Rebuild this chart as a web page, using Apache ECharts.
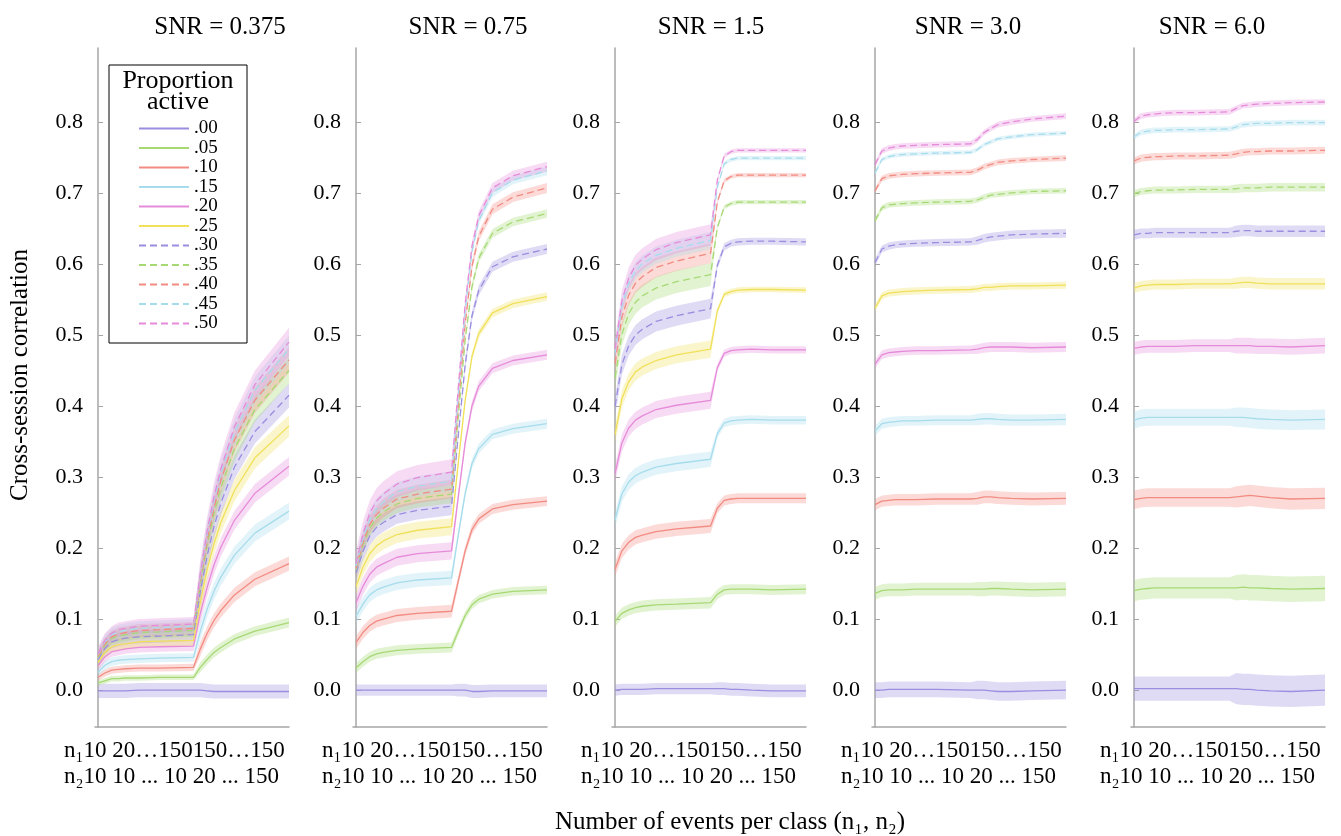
<!DOCTYPE html>
<html><head><meta charset="utf-8">
<script src="https://cdn.jsdelivr.net/npm/echarts@6/dist/echarts.min.js"></script>
<style>html,body{margin:0;padding:0;background:#fff}#c{width:1341px;height:836px}</style>
</head><body><div id="c"></div>
<script>
// x positions (index along the n1/n2 sequence: 0..14 -> n1 10..150 with n2=10, 15..28 -> n2 20..150 with n1=150)
const xIndex = [0,1,2,3,4,6,9,14,15,16,17,18,20,23,28];
const proportions = ['.00','.05','.10','.15','.20','.25','.30','.35','.40','.45','.50'];
const snrTitles = ['SNR = 0.375','SNR = 0.75','SNR = 1.5','SNR = 3.0','SNR = 6.0'];
const yTickValues = [0,0.1,0.2,0.3,0.4,0.5,0.6,0.7,0.8];
const xRowN1 = 'n\u208110 20\u2026150150\u2026150';
const xRowN2 = 'n\u208210 10 ... 10 20 ... 150';

const snr0375 = [
 [-0.001,-0.001,-0.001,-0.001,-0.001,0.000,0.000,0.000,0.000,-0.001,-0.002,-0.002,-0.002,-0.002,-0.002],
 [0.010,0.013,0.016,0.016,0.017,0.017,0.018,0.018,0.032,0.043,0.053,0.060,0.072,0.083,0.095],
 [0.018,0.024,0.028,0.029,0.030,0.031,0.031,0.032,0.058,0.080,0.098,0.112,0.134,0.156,0.178],
 [0.025,0.035,0.040,0.042,0.043,0.044,0.045,0.046,0.083,0.114,0.139,0.159,0.190,0.221,0.252],
 [0.034,0.047,0.054,0.056,0.058,0.060,0.061,0.062,0.108,0.145,0.176,0.201,0.239,0.277,0.315],
 [0.039,0.053,0.061,0.064,0.065,0.068,0.069,0.070,0.124,0.170,0.206,0.236,0.281,0.327,0.372],
 [0.043,0.059,0.068,0.071,0.073,0.075,0.076,0.078,0.139,0.189,0.230,0.263,0.314,0.364,0.415],
 [0.046,0.063,0.073,0.076,0.078,0.081,0.082,0.084,0.150,0.205,0.249,0.285,0.340,0.395,0.450],
 [0.048,0.065,0.075,0.079,0.081,0.084,0.085,0.087,0.155,0.212,0.257,0.295,0.352,0.408,0.465],
 [0.050,0.068,0.078,0.082,0.084,0.087,0.088,0.090,0.160,0.219,0.266,0.305,0.363,0.422,0.480],
 [0.051,0.070,0.080,0.085,0.087,0.090,0.091,0.093,0.164,0.224,0.272,0.311,0.371,0.430,0.490]
];
const snr075 = [
 [0.000,0.000,0.000,0.000,0.000,0.000,0.000,0.000,0.000,0.000,-0.002,-0.002,-0.001,-0.001,-0.001],
 [0.031,0.040,0.047,0.051,0.053,0.056,0.058,0.060,0.083,0.105,0.120,0.128,0.135,0.139,0.141],
 [0.067,0.081,0.091,0.097,0.100,0.105,0.108,0.111,0.154,0.196,0.226,0.241,0.255,0.261,0.266],
 [0.104,0.121,0.134,0.141,0.145,0.151,0.155,0.158,0.219,0.277,0.319,0.340,0.360,0.368,0.375],
 [0.123,0.146,0.163,0.173,0.178,0.187,0.192,0.196,0.273,0.348,0.400,0.428,0.453,0.464,0.472],
 [0.146,0.173,0.192,0.203,0.210,0.219,0.225,0.230,0.321,0.408,0.470,0.502,0.531,0.544,0.554],
 [0.165,0.195,0.217,0.229,0.236,0.247,0.253,0.259,0.360,0.458,0.527,0.563,0.596,0.610,0.621],
 [0.170,0.204,0.228,0.242,0.251,0.262,0.270,0.276,0.387,0.493,0.568,0.608,0.643,0.659,0.671],
 [0.172,0.208,0.233,0.247,0.256,0.269,0.276,0.283,0.402,0.516,0.597,0.639,0.677,0.694,0.707],
 [0.175,0.213,0.240,0.256,0.265,0.279,0.287,0.294,0.416,0.534,0.617,0.661,0.700,0.718,0.731],
 [0.178,0.219,0.249,0.266,0.276,0.290,0.299,0.307,0.427,0.544,0.625,0.668,0.707,0.724,0.737]
];
const snr15 = [
 [0.000,0.001,0.001,0.001,0.001,0.002,0.002,0.002,0.002,0.002,0.001,0.001,0.000,-0.001,-0.001],
 [0.097,0.108,0.113,0.116,0.118,0.120,0.121,0.123,0.135,0.141,0.142,0.142,0.142,0.141,0.142],
 [0.170,0.196,0.208,0.215,0.218,0.223,0.227,0.231,0.256,0.267,0.269,0.270,0.270,0.270,0.270],
 [0.240,0.276,0.293,0.302,0.307,0.314,0.319,0.325,0.361,0.376,0.379,0.380,0.381,0.380,0.380],
 [0.305,0.348,0.369,0.380,0.386,0.395,0.401,0.408,0.454,0.474,0.478,0.479,0.480,0.479,0.479],
 [0.360,0.410,0.434,0.448,0.455,0.464,0.472,0.480,0.534,0.557,0.561,0.563,0.564,0.564,0.563],
 [0.400,0.458,0.485,0.500,0.508,0.519,0.527,0.537,0.598,0.624,0.629,0.631,0.632,0.632,0.631],
 [0.440,0.501,0.530,0.546,0.555,0.566,0.575,0.585,0.651,0.680,0.685,0.687,0.687,0.687,0.687],
 [0.460,0.525,0.556,0.573,0.582,0.595,0.604,0.615,0.687,0.717,0.723,0.725,0.725,0.725,0.725],
 [0.475,0.541,0.573,0.590,0.600,0.612,0.622,0.633,0.708,0.741,0.747,0.749,0.749,0.749,0.749],
 [0.480,0.548,0.580,0.598,0.607,0.620,0.630,0.641,0.718,0.752,0.758,0.760,0.760,0.760,0.760]
];
const snr30 = [
 [0.000,0.000,0.001,0.001,0.001,0.001,0.001,0.000,0.000,0.000,-0.001,-0.002,-0.002,-0.001,0.000],
 [0.136,0.140,0.141,0.141,0.141,0.142,0.142,0.142,0.142,0.142,0.143,0.143,0.142,0.141,0.142],
 [0.261,0.266,0.267,0.268,0.268,0.268,0.269,0.269,0.270,0.272,0.272,0.271,0.270,0.269,0.270],
 [0.365,0.375,0.377,0.378,0.379,0.379,0.380,0.380,0.381,0.382,0.382,0.381,0.380,0.380,0.381],
 [0.459,0.472,0.475,0.476,0.477,0.478,0.478,0.479,0.480,0.482,0.483,0.483,0.483,0.482,0.483],
 [0.538,0.555,0.559,0.560,0.561,0.562,0.563,0.564,0.565,0.567,0.567,0.568,0.569,0.569,0.570],
 [0.602,0.621,0.625,0.627,0.628,0.629,0.630,0.631,0.633,0.636,0.638,0.639,0.641,0.642,0.643],
 [0.661,0.679,0.683,0.684,0.685,0.686,0.687,0.688,0.690,0.694,0.697,0.698,0.700,0.702,0.703],
 [0.703,0.720,0.724,0.725,0.726,0.727,0.728,0.729,0.732,0.737,0.740,0.743,0.745,0.747,0.749],
 [0.728,0.747,0.751,0.753,0.754,0.755,0.756,0.757,0.761,0.768,0.772,0.776,0.779,0.782,0.784],
 [0.740,0.759,0.763,0.765,0.766,0.767,0.768,0.769,0.775,0.785,0.791,0.796,0.800,0.804,0.808]
];
const snr60 = [
 [0.002,0.002,0.002,0.002,0.002,0.002,0.002,0.002,0.002,0.001,0.001,0.000,-0.001,-0.002,0.000],
 [0.140,0.142,0.143,0.144,0.144,0.144,0.144,0.144,0.144,0.145,0.144,0.144,0.143,0.142,0.143],
 [0.268,0.270,0.271,0.271,0.271,0.271,0.271,0.271,0.272,0.273,0.274,0.273,0.271,0.269,0.270],
 [0.380,0.383,0.384,0.384,0.384,0.384,0.384,0.384,0.384,0.384,0.383,0.382,0.381,0.380,0.381],
 [0.481,0.483,0.484,0.484,0.484,0.484,0.485,0.485,0.485,0.485,0.485,0.484,0.484,0.483,0.485],
 [0.566,0.569,0.570,0.571,0.571,0.571,0.572,0.572,0.573,0.574,0.574,0.573,0.572,0.572,0.572],
 [0.641,0.643,0.643,0.644,0.644,0.644,0.644,0.644,0.646,0.647,0.647,0.646,0.646,0.646,0.646],
 [0.699,0.702,0.703,0.704,0.704,0.704,0.705,0.705,0.706,0.707,0.707,0.707,0.708,0.708,0.708],
 [0.745,0.749,0.750,0.751,0.751,0.752,0.752,0.753,0.755,0.757,0.758,0.758,0.759,0.759,0.760],
 [0.779,0.785,0.787,0.788,0.788,0.789,0.789,0.790,0.793,0.796,0.797,0.798,0.798,0.799,0.799],
 [0.801,0.808,0.810,0.811,0.812,0.813,0.813,0.814,0.819,0.823,0.824,0.825,0.826,0.827,0.828]
];
// half-width of the shaded band, first segment (n2 = 10) and second segment (n1 = 150)
const bandEarly0375 = [0.010,0.004,0.005,0.006,0.007,0.008,0.009,0.009,0.009,0.010,0.010];
const bandLate0375  = [0.010,0.007,0.010,0.012,0.013,0.015,0.017,0.018,0.018,0.019,0.020];
const bandEarly075  = [0.008,0.007,0.009,0.010,0.012,0.012,0.013,0.013,0.013,0.014,0.018];
const bandLate075   = [0.009,0.006,0.007,0.007,0.007,0.006,0.007,0.006,0.007,0.006,0.007];
const bandEarly15   = [0.008,0.008,0.010,0.011,0.012,0.012,0.014,0.016,0.014,0.012,0.015];
const bandLate15    = [0.009,0.007,0.007,0.006,0.005,0.004,0.005,0.003,0.003,0.003,0.003];
const bandEarly30   = [0.011,0.009,0.008,0.007,0.006,0.005,0.005,0.004,0.004,0.003,0.004];
const bandLate30    = [0.013,0.010,0.009,0.008,0.007,0.005,0.006,0.004,0.004,0.003,0.004];
const bandEarly60   = [0.017,0.015,0.013,0.012,0.009,0.007,0.007,0.005,0.005,0.004,0.004];
const bandLate60    = [0.022,0.018,0.015,0.014,0.011,0.008,0.008,0.006,0.005,0.004,0.004];

const panelValues = [snr0375, snr075, snr15, snr30, snr60];
const bandEarly = [bandEarly0375, bandEarly075, bandEarly15, bandEarly30, bandEarly60];
const bandLate = [bandLate0375, bandLate075, bandLate15, bandLate30, bandLate60];

const lineColors = ['#9b8ee0','#a6d974','#f28b82','#a6dcec','#e68bd9','#f0e05a',
                    '#9b8ee0','#a6d974','#f28b82','#a6dcec','#e68bd9'];
const panelLeft = [95, 353, 612, 872, 1131];
const titleCenter = [220, 468, 711, 968, 1212];
const FONT = '"Liberation Serif", "DejaVu Serif", serif';
const AXIS_GRAY = '#a6a6a6';

const chart = echarts.init(document.getElementById('c'), null, {renderer: 'canvas'});
const grids = [], xAxes = [], yAxes = [], series = [], graphics = [];

function txt(x, y, text, size, align, extra) {
  return Object.assign({type: 'text', x: x, y: y,
    style: {text: text, font: size + 'px ' + FONT, fill: '#000',
            textAlign: align, textVerticalAlign: 'middle', align: align, verticalAlign: 'middle'}}, extra || {});
}

panelValues.forEach((panel, p) => {
  grids.push({left: panelLeft[p], top: 48, width: 194, height: 679});
  xAxes.push({
    type: 'value', gridIndex: p, min: -0.45, max: 28,
    axisLine: {show: true, onZero: false, lineStyle: {color: AXIS_GRAY, width: 1.5}},
    axisTick: {show: false}, axisLabel: {show: false}, splitLine: {show: false}
  });
  yAxes.push({
    type: 'value', gridIndex: p, min: -0.052, max: 0.904,
    axisLine: {show: true, lineStyle: {color: AXIS_GRAY, width: 1.5}},
    axisTick: {show: true, inside: true, length: 5, customValues: yTickValues, lineStyle: {color: AXIS_GRAY, width: 1}},
    axisLabel: {show: true, customValues: yTickValues, formatter: v => v.toFixed(1),
                fontFamily: FONT, fontSize: 22, color: '#000', margin: 12},
    splitLine: {show: false}
  });
  panel.forEach((vals, s) => {
    const rows = xIndex.map((x, i) => {
      const hw = x <= 14 ? bandEarly[p][s] : bandLate[p][s];
      return [x, vals[i] - hw, vals[i] + hw];
    });
    const color = lineColors[s];
    series.push({
      type: 'custom', name: 'band', xAxisIndex: p, yAxisIndex: p, silent: true, z: 1,
      data: rows, encode: {x: 0, y: [1, 2]},
      renderItem: function (params, api) {
        if (params.dataIndex !== 0) return null;
        const pts = [];
        for (let i = 0; i < rows.length; i++) pts.push(api.coord([rows[i][0], rows[i][2]]));
        for (let i = rows.length - 1; i >= 0; i--) pts.push(api.coord([rows[i][0], rows[i][1]]));
        return {type: 'polygon', shape: {points: pts}, style: {fill: color, opacity: 0.32}};
      }
    });
    series.push({
      type: 'line', name: proportions[s], xAxisIndex: p, yAxisIndex: p,
      data: xIndex.map((x, i) => [x, vals[i]]),
      symbol: 'none', z: 3, emphasis: {disabled: true},
      itemStyle: {color: color},
      lineStyle: {color: color, width: 1.3, type: s >= 6 ? [7, 4] : 'solid'}
    });
  });
  graphics.push(txt(titleCenter[p], 27, snrTitles[p], 25, 'center'));
  graphics.push(txt(panelLeft[p] - 31, 751, xRowN1, 23, 'left'));
  graphics.push(txt(panelLeft[p] - 31, 777, xRowN2, 23, 'left'));
});

graphics.push(txt(730, 822, 'Number of events per class (n\u2081, n\u2082)', 25, 'center'));
graphics.push(txt(20, 375, 'Cross-session correlation', 25, 'center', {rotation: Math.PI / 2}));
graphics.push({type: 'rect', z: 5, shape: {x: 109, y: 65, width: 138, height: 278},
  style: {fill: '#fff', stroke: '#000', lineWidth: 1}});
graphics.push(txt(178, 81, 'Proportion', 26, 'center', {z: 6}));
graphics.push(txt(178, 102, 'active', 26, 'center', {z: 6}));

chart.setOption({
  animation: false,
  backgroundColor: '#fff',
  grid: grids, xAxis: xAxes, yAxis: yAxes,
  legend: {
    data: proportions, orient: 'vertical', left: 138, top: 119, padding: 0,
    itemWidth: 50, itemHeight: 19, itemGap: 0.5, selectedMode: false, z: 10,
    itemStyle: {opacity: 0},
    textStyle: {fontFamily: FONT, fontSize: 19, color: '#000'}
  },
  graphic: {elements: graphics},
  series: series
});
</script></body></html>
